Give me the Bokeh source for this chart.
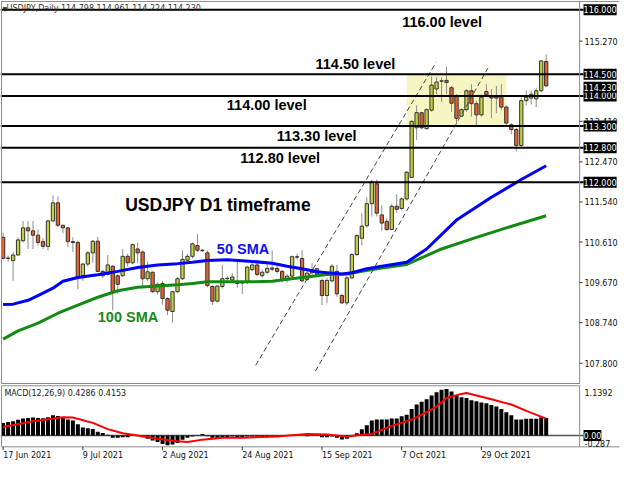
from bokeh.plotting import figure
from bokeh.models import Range1d, Label, ColumnDataSource
from bokeh.layouts import column
from bokeh.embed import file_html
from bokeh.resources import INLINE
from bokeh.core.properties import value

# ---------------- data ----------------
opens = [110.72, 110.23, 110.18, 110.31, 110.64, 110.94, 110.87, 110.77, 110.62, 110.51,
         111.10, 111.52, 111.00, 110.94, 110.62, 110.60, 109.83, 110.10, 110.36, 110.63,
         109.93, 109.86, 110.05, 109.83, 109.83, 110.28, 110.13, 110.45, 110.38, 109.76,
         109.91, 109.46, 109.65, 109.30, 109.00, 109.46, 109.76, 110.19, 110.28, 110.53,
         110.42, 110.36, 109.58, 109.24, 109.58, 109.76, 109.73, 109.66, 109.67, 109.67,
         109.97, 110.08, 109.83, 109.91, 110.01, 110.00, 109.93, 109.73, 109.82, 110.27,
         110.23, 109.74, 109.90, 109.99, 109.72, 109.37, 109.71, 109.93, 109.37, 109.20,
         109.78, 110.32, 110.70, 110.99, 111.50, 111.96, 111.24, 111.09, 110.90, 111.44,
         111.39, 111.61, 112.11, 113.26, 113.61, 113.24, 113.67, 114.16, 114.34, 114.36,
         114.19, 114.01, 113.53, 113.68, 114.12, 113.82, 113.56, 114.10, 113.98, 113.99,
         113.97, 113.74, 113.33, 113.22, 112.85, 113.89, 113.95, 113.93, 114.12, 114.798]
highs = [110.83, 110.30, 110.38, 110.72, 111.10, 111.10, 111.10, 110.90, 110.70, 111.13,
         111.69, 111.67, 111.01, 110.96, 110.72, 110.64, 110.13, 110.40, 110.66, 110.73,
         109.97, 110.31, 110.08, 109.86, 110.45, 110.34, 110.58, 110.60, 110.42, 110.16,
         109.93, 109.67, 109.71, 109.33, 109.48, 109.80, 110.42, 110.34, 110.60, 110.79,
         110.45, 110.42, 109.61, 109.61, 110.08, 109.82, 109.89, 110.15, 109.71, 110.06,
         110.12, 110.19, 109.97, 110.12, 110.42, 110.05, 109.97, 109.86, 110.30, 110.34,
         110.42, 109.95, 110.12, 110.02, 109.75, 109.78, 110.10, 110.08, 109.41, 109.82,
         110.36, 110.80, 111.28, 111.65, 112.06, 112.06, 111.46, 111.16, 111.50, 111.72,
         111.65, 112.26, 113.43, 113.78, 113.63, 113.71, 114.45, 114.43, 114.43, 114.68,
         114.23, 114.04, 113.71, 114.16, 114.27, 113.89, 114.04, 114.27, 114.16, 114.23,
         114.27, 113.78, 113.37, 113.26, 113.97, 114.13, 114.13, 114.19, 114.83, 114.961]
lows = [110.21, 110.15, 109.71, 110.30, 110.60, 110.45, 110.45, 110.53, 110.45, 110.42,
        111.09, 110.96, 110.81, 110.49, 110.38, 109.52, 109.71, 110.04, 110.13, 109.91,
        109.78, 109.83, 109.03, 109.41, 109.80, 110.04, 110.10, 110.12, 109.58, 109.71,
        109.43, 109.40, 109.16, 108.92, 108.74, 109.43, 109.73, 110.16, 110.23, 110.38,
        110.38, 109.56, 109.15, 109.21, 109.53, 109.71, 109.68, 109.55, 109.41, 109.63,
        109.93, 109.82, 109.78, 109.86, 109.93, 109.88, 109.67, 109.67, 109.78, 110.20,
        109.67, 109.70, 109.82, 109.82, 109.15, 109.19, 109.68, 109.34, 109.17, 109.15,
        109.75, 110.28, 110.53, 110.94, 111.20, 111.20, 110.87, 110.87, 110.90, 111.28,
        111.35, 111.57, 112.10, 112.98, 113.22, 113.22, 113.63, 114.04, 113.86, 114.04,
        113.63, 113.37, 113.52, 113.63, 113.52, 113.30, 113.52, 113.97, 113.48, 113.60,
        113.67, 113.33, 113.11, 112.71, 112.81, 113.78, 113.80, 113.74, 114.08, 114.224]
closes = [110.23, 110.24, 110.31, 110.66, 110.94, 110.87, 110.77, 110.60, 110.51, 111.10,
          111.52, 111.00, 110.94, 110.62, 110.60, 109.80, 110.10, 110.36, 110.63, 109.93,
          109.83, 110.08, 109.46, 109.63, 110.28, 110.13, 110.55, 110.36, 109.76, 109.92,
          109.46, 109.63, 109.30, 109.03, 109.46, 109.76, 110.21, 110.28, 110.57, 110.42,
          110.41, 109.60, 109.24, 109.59, 109.76, 109.77, 109.80, 109.65, 109.66, 110.03,
          110.08, 109.86, 109.91, 110.00, 109.98, 109.93, 109.72, 109.82, 110.27, 110.26,
          109.71, 109.89, 109.97, 109.86, 109.37, 109.72, 110.05, 109.41, 109.20, 109.78,
          110.32, 110.76, 110.98, 111.50, 112.01, 111.28, 111.05, 110.90, 111.44, 111.37,
          111.61, 112.23, 113.41, 113.61, 113.26, 113.68, 114.25, 114.32, 114.35, 114.31,
          113.83, 113.48, 113.68, 114.12, 113.82, 113.56, 113.97, 114.02, 113.95, 113.95,
          113.74, 113.37, 113.22, 112.85, 113.89, 113.97, 114.04, 114.12, 114.81, 114.230]

sma50_x = [0, 2, 5, 7, 10, 12, 15, 19, 23, 27, 31, 35, 38, 41, 45, 50, 54, 57, 60, 63,
           65, 68, 70, 73, 76, 81, 85, 91, 98, 104, 109]
sma50_y = [109.16, 109.17, 109.26, 109.37, 109.54, 109.70, 109.79, 109.85, 109.93, 110.02,
           110.08, 110.11, 110.14, 110.18, 110.20, 110.16, 110.12, 110.05, 109.99, 109.92,
           109.90, 109.87, 109.90, 109.99, 110.05, 110.14, 110.45, 111.12, 111.65, 112.06, 112.38]
sma100_x = [0, 3, 7, 11, 15, 19, 23, 27, 31, 35, 38, 41, 45, 50, 54, 57, 61, 65, 69, 72,
            76, 81, 88, 95, 101, 109]
sma100_y = [108.36, 108.55, 108.73, 108.96, 109.15, 109.33, 109.48, 109.56, 109.59, 109.62,
            109.65, 109.69, 109.69, 109.69, 109.70, 109.75, 109.80, 109.86, 109.87, 109.93,
            110.01, 110.09, 110.45, 110.72, 110.94, 111.22]

macd_hist = [0.31, 0.33, 0.35, 0.385, 0.42, 0.43, 0.44, 0.43, 0.425, 0.45,
             0.495, 0.48, 0.45, 0.39, 0.37, 0.275, 0.20, 0.18, 0.16, 0.095,
             0.063, 0.02, -0.055, -0.055, -0.04, -0.04, 0.0, 0.0, -0.04, -0.08,
             -0.12, -0.16, -0.21, -0.235, -0.22, -0.18, -0.10, -0.055, -0.024, 0.016,
             0.04, -0.016, -0.055, -0.055, -0.04, -0.04, -0.024, -0.04, -0.04, -0.024,
             -0.024, -0.024, -0.016, -0.016, -0.008, -0.008, -0.016, -0.008, 0.008, 0.04,
             0.0, -0.016, -0.008, -0.008, -0.04, -0.04, -0.024, -0.055, -0.094, -0.08,
             -0.024, 0.055, 0.157, 0.25, 0.37, 0.39, 0.39, 0.39, 0.42, 0.42,
             0.47, 0.51, 0.65, 0.76, 0.825, 0.89, 0.98, 1.06, 1.12, 1.1392,
             1.077, 0.98, 0.94, 0.92, 0.865, 0.84, 0.81, 0.79, 0.75, 0.71,
             0.65, 0.57, 0.495, 0.39, 0.39, 0.41, 0.41, 0.41, 0.45, 0.4286]
signal_x = [0, 6, 12, 14, 18, 21, 24, 27, 31, 35, 37, 40, 44, 48, 55, 61, 65, 69, 72, 74,
            78, 82, 84, 87, 89, 92, 93, 95, 98, 102, 105, 109]
signal_y = [0.21, 0.35, 0.45, 0.44, 0.31, 0.157, 0.055, 0.0, -0.08, -0.14, -0.157, -0.10,
            -0.055, -0.055, -0.024, 0.04, 0.024, -0.024, 0.02, 0.04, 0.236, 0.39, 0.51,
            0.71, 0.92, 1.02, 1.04, 0.98, 0.89, 0.76, 0.605, 0.4153]

date_ticks = [0, 16, 32, 48, 64, 80, 96]
date_labels = ["17 Jun 2021", "9 Jul 2021", "2 Aug 2021", "24 Aug 2021",
               "15 Sep 2021", "7 Oct 2021", "29 Oct 2021"]
price_ticks = [115.27, 113.41, 112.47, 111.54, 110.61, 109.67, 108.74, 107.80]
levels = [116.0, 114.5, 114.0, 113.3, 112.8, 112.0]
current_price = 114.230
level_notes = ["116.00 level", "114.50 level", "114.00 level", "113.30 level", "112.80 level"]
note_x = [80.1, 62.7, 44.9, 54.9, 47.6]
note_y = [115.72, 114.75, 113.78, 113.06, 112.57]
chan1_x = [50.7, 86.9]
chan1_y = [107.755, 114.777]
chan2_x = [62.7, 97.3]
chan2_y = [107.62, 114.642]
zone_x = [81.0, 101.0]
zone_y = [113.32, 114.5]
macd_min, macd_max = -0.287, 1.1392

# ---------------- geometry (bar-index / price units) ----------------
X0, X1 = -0.528, 124.72          # whole canvas width
FL, FR = -0.333, 115.71          # chart frame left / right edge
TICK_END = 116.30                # end of scale tick marks
LAB_X = 116.69                   # scale label start
BOX_X = 116.50                   # boxed label text start
xr = Range1d(X0, X1)

FRAME = "#8a8a8a"
BULL = "#c3d13c"
BEAR = "#e8622b"
EDGE = "#333333"
WICK = "#8c8c8c"
AXF = "DejaVu Sans"
BF = "Liberation Sans"

def bare(fig):
    fig.grid.visible = False
    fig.outline_line_color = None
    fig.background_fill_color = "white"
    fig.border_fill_color = "white"

# ---------------- main chart ----------------
P_LO, P_HI = 107.307, 116.212
p = figure(width=624, height=384, x_range=xr, y_range=Range1d(P_LO, P_HI),
           output_backend="svg", toolbar_location=None, x_axis_location=None,
           y_axis_location=None, min_border=0)
bare(p)

p.quad(left=[zone_x[0]], right=[zone_x[1]], bottom=[zone_y[0]], top=[zone_y[1]],
       fill_color="#f7f5c3", line_color=None)

idx = list(range(len(opens)))
bull = [c >= o for o, c in zip(opens, closes)]
src = ColumnDataSource(dict(
    x=idx, h=highs, l=lows,
    top=[max(o, c) for o, c in zip(opens, closes)],
    bot=[min(o, c) for o, c in zip(opens, closes)],
    col=[BULL if b else BEAR for b in bull]))
p.segment(x0="x", y0="h", x1="x", y1="l", source=src, line_color=WICK, line_width=1)
p.vbar(x="x", top="top", bottom="bot", width=0.66, source=src,
       fill_color="col", line_color=EDGE, line_width=1)

p.line(sma100_x, sma100_y, line_color="#138a13", line_width=3)
p.line(sma50_x, sma50_y, line_color="#0000ff", line_width=3)

p.line(chan1_x, chan1_y, line_color="#444444", line_width=1, line_dash="5 3")
p.line(chan2_x, chan2_y, line_color="#444444", line_width=1, line_dash="5 3")

p.segment(x0=[X0] * len(levels), y0=levels, x1=[BOX_X] * len(levels), y1=levels,
          line_color="black", line_width=2)

# chart frame
p.segment(x0=[FL, FL, FR], y0=[P_HI, 116.19, P_HI], x1=[FL, FR + 8, FR],
          y1=[107.33, 116.19, 107.30], line_color=FRAME, line_width=1)
p.segment(x0=[FL], y0=[107.33], x1=[FR], y1=[107.33], line_color=FRAME, line_width=1)

# right price scale
p.segment(x0=[FR] * len(price_ticks), y0=price_ticks, x1=[TICK_END] * len(price_ticks),
          y1=price_ticks, line_color="#333333", line_width=1)
p.text(x=[LAB_X] * len(price_ticks), y=price_ticks, text=["%.3f" % v for v in price_ticks],
       text_font=value(AXF), text_font_size=value("8px"), text_color="#111111",
       text_baseline="middle", text_align="left")

for t, x, y in zip(level_notes, note_x, note_y):
    p.add_layout(Label(x=x, y=y, text=t, text_font=BF, text_font_style="bold",
                       text_font_size="14.5px", text_color="black", text_baseline="middle"))
p.add_layout(Label(x=24.5, y=111.48, text="USDJPY D1 timeframe", text_font=BF,
                   text_font_style="bold", text_font_size="17.5px", text_color="black",
                   text_baseline="middle"))
p.add_layout(Label(x=42.9, y=110.45, text="50 SMA", text_font=BF, text_font_style="bold",
                   text_font_size="14.5px", text_color="#1010f0", text_baseline="middle"))
p.add_layout(Label(x=19.0, y=108.88, text="100 SMA", text_font=BF, text_font_style="bold",
                   text_font_size="14.5px", text_color="#1a8a1a", text_baseline="middle"))

p.add_layout(Label(x=-0.15, y=116.02, text="\u25bc", text_font=AXF, text_font_size="6px",
                   text_color="#222222", text_baseline="middle"))
p.add_layout(Label(x=0.7, y=116.02,
                   text="USDJPY,Daily  114.798 114.961 114.224 114.230",
                   text_font=AXF, text_font_size="8px", text_color="#333333",
                   text_baseline="middle"))

for lv in levels:
    p.add_layout(Label(x=BOX_X, y=lv, text="%.3f" % lv, text_font=AXF, text_font_size="8px",
                       text_color="white", background_fill_color="black", padding=(0, 2),
                       text_baseline="middle"))
p.add_layout(Label(x=BOX_X, y=current_price - 0.03, text="%.3f" % current_price,
                   text_font=AXF, text_font_size="8px", text_color="white",
                   background_fill_color="black", padding=(0, 2), text_baseline="middle"))

# ---------------- MACD panel ----------------
M_LO, M_HI = -0.660, 1.25
M_TOP, M_BOT = 1.219, -0.276
m = figure(width=624, height=78, x_range=xr, y_range=Range1d(M_LO, M_HI),
           output_backend="svg", toolbar_location=None, x_axis_location=None,
           y_axis_location=None, min_border=0)
bare(m)

m.segment(x0=[X0], y0=[0], x1=[BOX_X], y1=[0], line_color="#555555", line_width=1.5)
m.vbar(x=idx, top=macd_hist, bottom=0, width=0.8, fill_color="black", line_color=None)
m.line(signal_x, signal_y, line_color="#ff0000", line_width=2)

# panel frame
m.segment(x0=[FL, FL, FL, FR], y0=[M_TOP, M_BOT, M_TOP, M_TOP],
          x1=[FR, FR + 8, FL, FR], y1=[M_TOP, M_BOT, M_BOT, M_BOT],
          line_color=FRAME, line_width=1)
# date ticks
m.segment(x0=date_ticks, y0=[M_BOT] * len(date_ticks), x1=date_ticks,
          y1=[-0.36] * len(date_ticks), line_color="#333333", line_width=1)
m.text(x=date_ticks, y=[-0.49] * len(date_ticks), text=date_labels,
       text_font=value(AXF), text_font_size=value("8px"), text_color="#111111",
       text_baseline="middle", text_align="left")

m.add_layout(Label(x=0.25, y=1.02, text="MACD(12,26,9) 0.4286 0.4153", text_font=AXF,
                   text_font_size="8px", text_color="#222222", text_baseline="middle"))
m.add_layout(Label(x=BOX_X, y=0.0, text="0.00", text_font=AXF, text_font_size="8px",
                   text_color="white", background_fill_color="black", padding=(0, 2),
                   text_baseline="middle"))
m.add_layout(Label(x=LAB_X, y=macd_max, text="%.4f" % macd_max, text_font=AXF,
                   text_font_size="8px", text_color="#111111", text_baseline="top"))
m.add_layout(Label(x=LAB_X, y=macd_min, text="%.3f" % macd_min, text_font=AXF,
                   text_font_size="8px", text_color="#111111", text_baseline="bottom"))

layout = column(p, m, spacing=0)
open("out.html", "w").write(file_html(layout, INLINE))
